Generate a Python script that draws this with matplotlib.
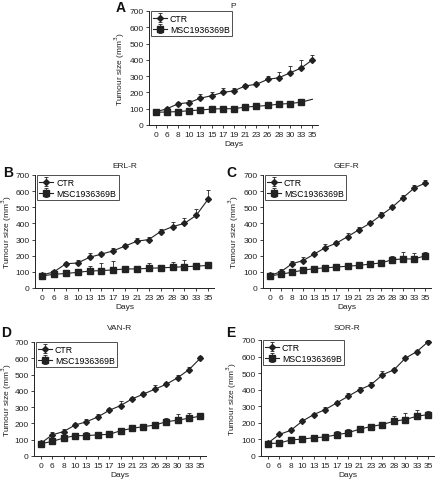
import numpy as np
import matplotlib
matplotlib.use("Agg")
import matplotlib.pyplot as plt

plt.rcParams['font.family'] = ['Liberation Sans', 'DejaVu Sans']

days = ["0", "6", "8", "10", "13", "15", "17", "19", "21", "23", "26", "28", "30", "33", "35"]

# Panel A (P)
a_ctr = [80, 100, 130, 138, 165, 180, 200, 210, 240, 250, 280, 290, 320, 350, 400]
a_ctr_err = [8, 10, 10, 15, 25, 22, 30, 20, 10, 15, 20, 35, 45, 50, 30]
a_msc = [78, 80, 82, 88, 92, 98, 100, 100, 110, 115, 120, 128, 132, 140, 158]
a_msc_err = [5, 5, 5, 5, 5, 5, 5, 5, 5, 5, 5, 5, 5, 5, 0]

# Panel B (ERL-R)
b_ctr = [80, 100, 150, 155, 190, 210, 230, 260, 290, 300, 350, 380, 400, 450, 550]
b_ctr_err = [10, 10, 10, 20, 25, 15, 15, 15, 20, 15, 15, 30, 35, 40, 55]
b_msc = [75, 85, 90, 97, 105, 108, 112, 118, 118, 122, 125, 128, 132, 135, 140]
b_msc_err = [10, 10, 10, 20, 30, 45, 55, 10, 10, 30, 20, 30, 40, 15, 10]

# Panel C (GEF-R)
c_ctr = [78, 100, 150, 170, 210, 250, 278, 318, 360, 400, 450, 500, 560, 620, 650]
c_ctr_err = [10, 15, 15, 20, 15, 20, 15, 25, 15, 15, 20, 15, 15, 15, 20]
c_msc = [75, 85, 98, 110, 120, 125, 130, 135, 140, 148, 155, 175, 180, 180, 200]
c_msc_err = [10, 10, 10, 10, 15, 15, 15, 15, 15, 15, 10, 25, 40, 35, 20]

# Panel D (VAN-R)
d_ctr = [78, 130, 150, 190, 210, 240, 280, 310, 350, 380, 410, 440, 480, 530, 600]
d_ctr_err = [10, 15, 15, 15, 15, 15, 15, 25, 15, 15, 25, 15, 15, 15, 15]
d_msc = [75, 90, 110, 125, 125, 130, 133, 155, 170, 180, 190, 210, 220, 232, 245]
d_msc_err = [10, 10, 10, 15, 20, 15, 15, 20, 15, 15, 10, 25, 40, 30, 20]

# Panel E (SOR-R)
e_ctr = [78, 130, 155, 210, 250, 280, 320, 360, 400, 430, 490, 520, 590, 630, 690]
e_ctr_err = [10, 10, 15, 15, 10, 15, 10, 20, 15, 15, 20, 10, 10, 10, 15]
e_msc = [75, 78, 97, 102, 110, 115, 128, 140, 162, 178, 190, 210, 220, 240, 250]
e_msc_err = [10, 10, 10, 10, 15, 15, 25, 25, 15, 15, 15, 30, 40, 35, 20]

W, H = 436, 481
fig = plt.figure(figsize=(W / 100, H / 100), dpi=100)

def px_axes(left, right, top, bottom):
    return fig.add_axes([left / W, 1 - bottom / H, (right - left) / W, (bottom - top) / H])

col = '#222222'
FS = 6

def panel(rect, letter, title, ctr, ctr_err, msc, msc_err, letter_pos, title_y,
          skip_last_msc=False, ylpad=1.5):
    ax = px_axes(*rect)
    x = np.arange(len(days))
    ce = np.array(ctr_err)
    me = np.array(msc_err)
    kw = dict(color=col, lw=0.8, capsize=1.3, elinewidth=0.6, capthick=0.6)
    if skip_last_msc:
        n = len(msc) - 1
        ax.errorbar(x[:n], msc[:n], yerr=[np.zeros(n), me[:n]], marker='s', ms=3.8,
                    label='MSC1936369B', zorder=2, **kw)
        ax.plot(x[n - 1:], msc[n - 1:], color=col, lw=0.8, zorder=2)
    else:
        ax.errorbar(x, msc, yerr=[np.zeros(len(x)), me], marker='s', ms=3.8,
                    label='MSC1936369B', zorder=2, **kw)
    ax.errorbar(x, ctr, yerr=[np.zeros(len(x)), ce], marker='D', ms=3.0,
                label='CTR', zorder=3, **kw)
    ax.set_xlim(-0.6, 14.5)
    ax.set_ylim(0, 700)
    ax.set_yticks(range(0, 701, 100))
    ax.set_xticks(x)
    ax.set_xticklabels(days)
    ax.tick_params(labelsize=FS, length=2.5, width=0.6, pad=1.5, colors=col)
    for s in ['top', 'right']:
        ax.spines[s].set_visible(False)
    for s in ['left', 'bottom']:
        ax.spines[s].set_linewidth(0.7)
        ax.spines[s].set_color(col)
    ax.set_xlabel('Days', fontsize=FS, labelpad=1.5, color=col)
    ax.set_ylabel('Tumour size (mm$^3$)', fontsize=FS, labelpad=ylpad, color=col)
    fig.text((rect[0] + rect[1]) / 2 / W, 1 - title_y / H, title, fontsize=FS,
             ha='center', va='center', color=col)
    handles, labels = ax.get_legend_handles_labels()
    order = [labels.index('CTR'), labels.index('MSC1936369B')]
    leg = ax.legend([handles[i] for i in order], [labels[i] for i in order],
                    loc='upper left', bbox_to_anchor=(0.01, 1.0), fontsize=FS + 0.3,
                    frameon=True, fancybox=False, edgecolor=col,
                    handlelength=1.6, handletextpad=0.3, borderpad=0.3,
                    labelspacing=0.25, borderaxespad=0.0)
    leg.get_frame().set_linewidth(0.7)
    fig.text(letter_pos[0] / W, 1 - letter_pos[1] / H, letter, fontsize=10,
             fontweight='bold', ha='left', va='center', color='#111111')
    return ax

panel((149, 318, 12, 126), 'A', 'P', a_ctr, a_ctr_err, a_msc, a_msc_err, (116, 8), 7, skip_last_msc=True)
panel((35, 214, 176, 289), 'B', 'ERL-R', b_ctr, b_ctr_err, b_msc, b_msc_err, (3, 173), 167, ylpad=0.8)
panel((263, 431, 176, 289), 'C', 'GEF-R', c_ctr, c_ctr_err, c_msc, c_msc_err, (226, 173), 167)
panel((34, 206, 343, 457), 'D', 'VAN-R', d_ctr, d_ctr_err, d_msc, d_msc_err, (1, 333), 329, ylpad=0.5)
panel((261, 434, 341, 457), 'E', 'SOR-R', e_ctr, e_ctr_err, e_msc, e_msc_err, (226, 333), 329)

fig.savefig('out.png', dpi=100)
